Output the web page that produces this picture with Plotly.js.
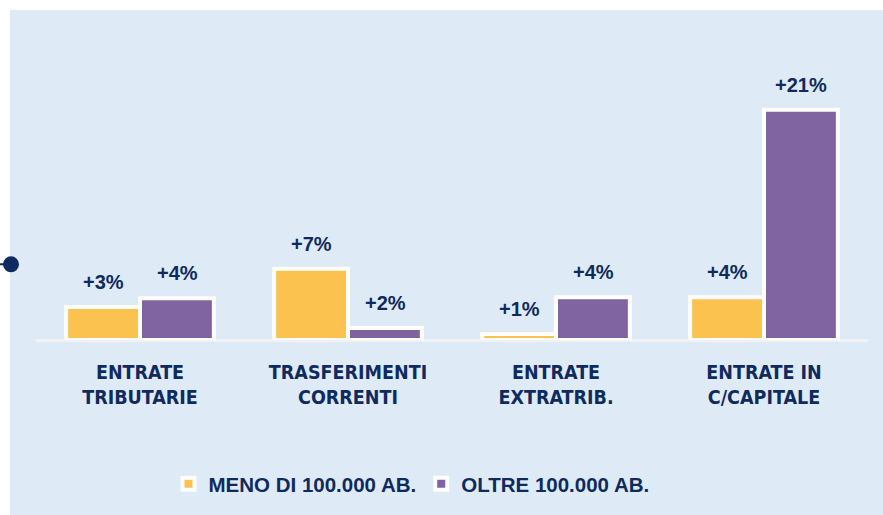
<!DOCTYPE html>
<html>
<head>
<meta charset="utf-8">
<script src="https://cdn.plot.ly/plotly-3.0.1.min.js"></script>
<style>
  html, body { margin: 0; padding: 0; background: #ffffff; }
  #chart { width: 883px; height: 515px; }
</style>
</head>
<body>
<div id="chart"></div>
<script>
// ---- data ----
const categories = ['ENTRATE<br>TRIBUTARIE', 'TRASFERIMENTI<br>CORRENTI', 'ENTRATE<br>EXTRATRIB.', 'ENTRATE IN<br>C/CAPITALE'];
const seriesNames = ['MENO DI 100.000 AB.', 'OLTRE 100.000 AB.'];
const valuesSmall = [3.0, 6.5, 0.55, 3.9];
const valuesLarge = [3.8, 1.1, 3.9, 21.0];
const labelsSmall = ['+3%', '+7%', '+1%', '+4%'];
const labelsLarge = ['+4%', '+2%', '+4%', '+21%'];

const navy = '#0F2A5E';
const bg = '#DEEAF6';
const yellow = '#FBC24F';
const purple = '#8064A2';

const ml = 36, mr = 15, mt = 60, mb = 174, W = 883, H = 515;
const pw = W - ml - mr, ph = H - mt - mb;
const px = x => (x - ml) / pw;
const py = y => (H - mb - y) / ph;

const traces = [
  { type: 'bar', name: seriesNames[0], x: categories, y: valuesSmall,
    marker: { color: yellow, line: { color: '#FFFFFF', width: 4 } }, hoverinfo: 'none' },
  { type: 'bar', name: seriesNames[1], x: categories, y: valuesLarge,
    marker: { color: purple, line: { color: '#FFFFFF', width: 4 } }, hoverinfo: 'none' }
];

const labelFont = { family: 'Liberation Sans, Arial, sans-serif', size: 20, color: navy, weight: 'bold' };
const annotations = [];
categories.forEach((c, i) => {
  annotations.push({ x: c, y: valuesSmall[i], text: labelsSmall[i], xref: 'x', yref: 'y',
    xshift: -37, yshift: 12, yanchor: 'bottom', showarrow: false, font: labelFont });
  annotations.push({ x: c, y: valuesLarge[i], text: labelsLarge[i], xref: 'x', yref: 'y',
    xshift: 37, yshift: 12, yanchor: 'bottom', showarrow: false, font: labelFont });
});

const layout = {
  width: W, height: H,
  margin: { l: ml, r: mr, t: mt, b: mb, pad: 0 },
  paper_bgcolor: '#FFFFFF',
  plot_bgcolor: 'rgba(0,0,0,0)',
  barmode: 'group', bargap: 0.29, bargroupgap: 0,
  showlegend: true,
  legend: { orientation: 'h', x: px(411.5), xanchor: 'center', xref: 'paper', y: py(484), yanchor: 'middle',
    font: { family: 'Liberation Sans, Arial, sans-serif', size: 20.5, color: navy, weight: 'bold' },
    bgcolor: 'rgba(0,0,0,0)', itemclick: false, itemdoubleclick: false, traceorder: 'normal' },
  xaxis: { type: 'category', showgrid: false, zeroline: false, showline: false, ticks: '',
    ticklabelstandoff: 18,
    tickfont: { family: 'DejaVu Sans Condensed, Liberation Sans Narrow, Arial Narrow, sans-serif', size: 19.5, color: navy, weight: 'bold' },
    fixedrange: true },
  yaxis: { range: [0, ph / 11], showgrid: false, zeroline: false, showticklabels: false, showline: false, fixedrange: true },
  annotations: annotations,
  shapes: [
    { type: 'rect', xref: 'paper', yref: 'paper', x0: px(10), x1: px(900), y0: py(530), y1: py(10),
      fillcolor: bg, line: { width: 0 }, layer: 'below' },
    { type: 'line', xref: 'paper', yref: 'paper', x0: 0, x1: 1, y0: py(341.5), y1: py(341.5),
      line: { color: '#F0F2F6', width: 3 }, layer: 'below' },
    { type: 'line', xref: 'paper', yref: 'paper', x0: px(0), x1: px(8), y0: py(265), y1: py(265),
      line: { color: navy, width: 2 }, layer: 'above' },
    { type: 'circle', xref: 'paper', yref: 'paper', x0: px(3), x1: px(19), y0: py(273), y1: py(257),
      fillcolor: navy, line: { color: navy, width: 0 }, layer: 'above' }
  ]
};

Plotly.newPlot('chart', traces, layout, { staticPlot: true, displayModeBar: false });
</script>
</body>
</html>
